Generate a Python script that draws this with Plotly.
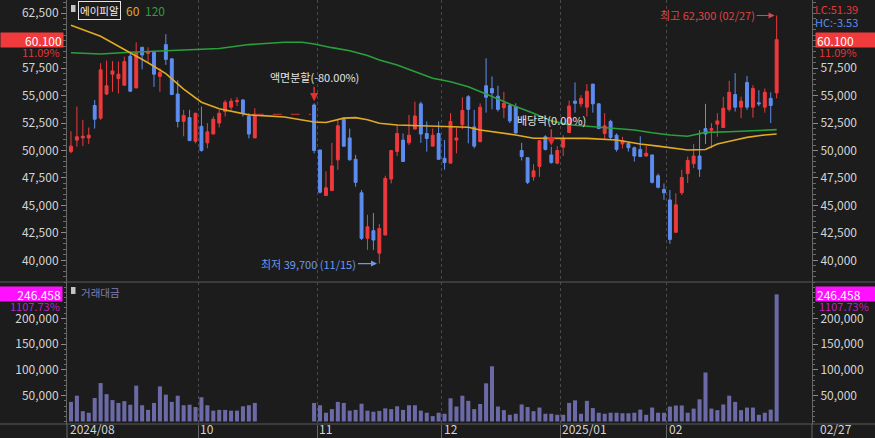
import plotly.graph_objects as go

# ---------------- data ----------------
month_labels = ["2024/08", "10", "11", "12", "2025/01", "02"]
month_start = [0, 22, 42, 63, 83, 101]
last_date_label = "02/27"
N_BARS = 120
S = None  # trading suspension (stock split)

opens = [49900, 50950, 51150, 51150, 54100, 52950, 55150, 56950, 56550, 55950,
         58600, 55700, 59400, 58850, 58950, 56750, 59650, 58350, 55150, 52650,
         53000, 50850, 52200, 50700, 51500, 52500, 53550, 53950, 54450, 54600,
         53100, 51150, S, S, S, S, S, S, S, S,
         S, 54150, 50050, 45900, 46350, 49150, 52850, 51150, 49200, 46150,
         42000, 42700, 40650, 42300, 47400, 49900, 50950, 50700, 51950, 54250,
         51550, 50400, 51550, 49300, 48850, 50950, 52350, 54900, 52150, 50800,
         55900, 55650, 54950, 53900, 54100, 54000, 50000, 49350, 47600, 48550,
         51250, 49600, 48850, 50300, 51650, 54500, 54250, 53950, 56050, 54250,
         51550, 52650, 51400, 50600, 50650, 50250, 50100, 49500, 49600, 47700,
         46450, 45500, 42550, 46150, 47900, 48800, 49500, 52000, 51850, 52400,
         52100, 53750, 55100, 53950, 56200, 53950, 54350, 53950, 54750, 55250]
highs = [51750, 54000, 52800, 52100, 54600, 57950, 58200, 58150, 58100, 58550,
         58850, 59850, 59450, 59400, 59000, 57500, 60600, 58350, 56400, 53700,
         53700, 53400, 54000, 52500, 53100, 53700, 54600, 54750, 54850, 54700,
         53400, 53850, S, S, S, S, S, S, S, S,
         S, 54300, 50050, 48100, 50700, 52800, 53000, 52000, 49600, 46400,
         44150, 44300, 43300, 47700, 50000, 52400, 51550, 53250, 54450, 54450,
         52650, 52000, 52650, 50950, 53400, 52100, 54850, 55050, 53700, 54300,
         58400, 56750, 55900, 55350, 54250, 54300, 50700, 49350, 48750, 50900,
         51400, 50350, 50400, 51400, 54550, 56200, 55050, 56050, 56050, 54300,
         53400, 52800, 51550, 51250, 50800, 50350, 51300, 50400, 49600, 47900,
         47000, 46400, 46100, 48250, 49450, 50600, 51850, 54250, 52500, 53400,
         54900, 56350, 57050, 54900, 56800, 55950, 55500, 55650, 55300, 62300]
lows = [49750, 50350, 50400, 50600, 52000, 52800, 55050, 55350, 55200, 55950,
        55350, 55700, 57400, 58100, 55800, 55350, 57800, 55050, 52100, 51300,
        50900, 50650, 49900, 50200, 51500, 52100, 53100, 53700, 54050, 53100,
        51100, 51150, S, S, S, S, S, S, S, S,
        S, 49750, 46100, 45900, 46350, 48250, 50350, 49100, 46700, 41850,
        40950, 40950, 39700, 42300, 47000, 49500, 49000, 50500, 51950, 50700,
        49900, 50400, 49150, 48250, 48850, 49750, 51950, 50650, 50200, 50800,
        53450, 53750, 53550, 52950, 52500, 51550, 49100, 46950, 47250, 47600,
        50000, 48800, 48750, 49500, 51650, 53450, 53950, 53100, 53450, 51950,
        51000, 51000, 49900, 50200, 49900, 49000, 49450, 49450, 47000, 46550,
        45500, 41500, 42550, 45950, 47050, 48400, 47600, 50600, 50200, 51250,
        52100, 53550, 53550, 52950, 53700, 53000, 54050, 53450, 52500, 54750]
closes = [50400, 51250, 51300, 51400, 52850, 57350, 55900, 57250, 56950, 58100,
          55400, 58950, 58700, 59000, 56950, 57100, 58300, 55100, 52650, 53200,
          50900, 53400, 50000, 51700, 52850, 53400, 54400, 54500, 54550, 53450,
          51500, 53300, S, S, S, S, S, S, S, S,
          S, 50000, 46200, 46600, 48600, 52250, 50400, 49150, 47100, 42000,
          43050, 41850, 42900, 47450, 50000, 51550, 49000, 51400, 53150, 51500,
          51100, 51400, 49200, 48900, 52650, 51150, 53650, 53750, 50400, 53950,
          54850, 55250, 53750, 54300, 52700, 51600, 49450, 47100, 48150, 50900,
          50100, 48900, 50000, 51100, 54050, 54300, 54750, 55400, 54250, 52000,
          52250, 51200, 50100, 50900, 50250, 49500, 49450, 49750, 47100, 46650,
          46150, 41900, 45050, 47550, 49100, 49500, 48300, 51500, 52000, 52700,
          53850, 55300, 53950, 54500, 53950, 55650, 54250, 55300, 54100, 60100]
turnover = [38000, 50000, 20000, 17000, 45500, 74500, 53000, 41500, 36000, 39500,
            32500, 69500, 31500, 22500, 36000, 68000, 52000, 38000, 50000, 31500,
            32500, 28000, 47000, 31500, 21000, 22500, 22500, 21000, 21000, 29500,
            31500, 36000, S, S, S, S, S, S, S, S,
            S, 36000, 31500, 17000, 24000, 38000, 36000, 21000, 22500, 34500,
            21000, 19000, 20500, 25500, 24000, 29500, 22500, 31500, 31500, 21000,
            17000, 10500, 17000, 15000, 45000, 29000, 50000, 40000, 24000, 34000,
            74000, 107000, 29000, 22000, 13000, 15000, 33000, 28000, 20000, 27000,
            15000, 15000, 13000, 13000, 36000, 41000, 15000, 40000, 26000, 17000,
            15000, 17000, 17000, 16000, 16000, 17000, 23000, 13000, 27000, 17000,
            17000, 29000, 31000, 31000, 17000, 25000, 43000, 95000, 25000, 22000,
            33000, 50000, 38000, 22000, 27000, 27000, 13000, 17000, 23000, 246458]

ma60_idx = [0, 5, 9, 13, 16, 19, 22, 25, 30, 36, 41, 43, 46, 48, 50, 52, 55, 63, 67, 69,
            72, 75, 78, 83, 87, 92, 96, 99, 101, 104, 107, 109, 112, 114, 117, 119]
ma60_val = [61400, 60400, 59200, 58000, 57000, 55600, 54400, 53800, 53250, 53050,
            52600, 52550, 52950, 53000, 52800, 52480, 52330, 52230, 52120, 51870,
            51660, 51420, 51120, 51110, 51110, 50960, 50600, 50400, 50250, 50050,
            50100, 50600, 50960, 51200, 51420, 51500]
ma120_idx = [0, 5, 10, 16, 20, 25, 30, 36, 39, 41, 44, 47, 50, 52, 55, 58, 61, 64, 67, 70,
             72, 75, 78, 81, 84, 87, 89, 92, 95, 98, 101, 104, 107, 111, 115, 119]
ma120_val = [58900, 58790, 58950, 59070, 59150, 59300, 59650, 59860, 59860, 59700,
             59370, 59090, 58650, 58250, 57790, 57180, 56580, 56270, 55810, 55150,
             54700, 54000, 53400, 52700, 52350, 52230, 52170, 52020, 51870, 51620,
             51414, 51300, 51650, 51715, 51780, 51900]

stock_name = "에이피알"
ma_labels = ["60", "120"]
price_ticks_left = [40000, 42500, 45000, 47500, 50000, 52500, 55000, 57500, 62500]
price_ticks_right = [40000, 42500, 45000, 47500, 50000, 52500, 55000, 57500]
vol_ticks = [50000, 100000, 150000, 200000]
last_price_text = "60,100"
last_change_text = "11.09%"
last_vol_text = "246,458"
last_vol_change_text = "1107.73%"
lc_text, hc_text = "LC:51.39", "HC:-3.53"
split_idx, split_text = 41, "액면분할(-80.00%)"
div_idx, div_text = 81, "배당락(0.00%)"
low_idx, low_text = 52, "최저 39,700 (11/15)"
high_idx, high_text = 119, "최고 62,300 (02/27)"
vol_title = "거래대금"

# ---------------- styling ----------------
BG = "#1c1c1c"
UP = "#ee3a3d"
DN = "#5d8df0"
GOLD = "#e2aa22"
GREEN = "#29a03d"
VOLC = "#6b6aa6"
TXT = "#d4d4d4"
AXL = "#666666"
FONT = "Noto Sans CJK KR"

W, H = 875, 438
ML, MR, MT, MB = 67, 63, 0, 14
PW, PH = W - ML - MR, H - MT - MB
SPLIT = 0.3349
X_RANGE = [-0.67, 124.96]
Y_RANGE = [38024, 63711]
V_RANGE = [-4845, 270350]


def px(xp):
    return (xp - ML) / PW


def py(yp):
    return (PH - yp) / PH


idx = [i for i in range(N_BARS) if opens[i] is not None]

fig = go.Figure()
fig.add_trace(go.Candlestick(
    x=idx, open=[opens[i] for i in idx], high=[highs[i] for i in idx],
    low=[lows[i] for i in idx], close=[closes[i] for i in idx],
    increasing=dict(line=dict(color=UP, width=1), fillcolor=UP),
    decreasing=dict(line=dict(color=DN, width=1), fillcolor=DN),
    whiskerwidth=0, xaxis="x", yaxis="y", hoverinfo="skip", showlegend=False))

fig.add_trace(go.Scatter(x=ma120_idx, y=ma120_val, mode="lines",
                         line=dict(color=GREEN, width=1.6), xaxis="x", yaxis="y",
                         hoverinfo="skip", showlegend=False))
fig.add_trace(go.Scatter(x=ma60_idx, y=ma60_val, mode="lines",
                         line=dict(color=GOLD, width=1.6), xaxis="x", yaxis="y",
                         hoverinfo="skip", showlegend=False))

last_pre = max(i for i in range(split_idx) if closes[i] is not None)
fig.add_trace(go.Scatter(x=[last_pre, split_idx - 0.5], y=[closes[last_pre]] * 2,
                         mode="lines", line=dict(color="#c83434", width=1, dash="dash"),
                         xaxis="x", yaxis="y", hoverinfo="skip", showlegend=False))

fig.add_trace(go.Bar(x=idx, y=[turnover[i] for i in idx], width=0.68,
                     marker=dict(color=VOLC, line=dict(width=0)),
                     xaxis="x2", yaxis="y2", hoverinfo="skip", showlegend=False))

# helper traces for the right-side axes
fig.add_trace(go.Scatter(x=[None], y=[None], xaxis="x", yaxis="y3", showlegend=False))
fig.add_trace(go.Scatter(x=[None], y=[None], xaxis="x2", yaxis="y4", showlegend=False))

grid_pos = [s - 0.5 for s in month_start[1:]]

yaxis_common = dict(tickformat=",d", ticks="outside", ticklen=5, tickcolor="#8a8a8a",
                    showline=True, linecolor=AXL, linewidth=1, showgrid=False,
                    zeroline=False, tickmode="array", fixedrange=True,
                    tickfont=dict(size=12, color=TXT, family=FONT))
price_minor = dict(tickmode="linear", tick0=0, dtick=500, ticks="outside", ticklen=3,
                   tickcolor="#6a6a6a", showgrid=False)
vol_minor = dict(tickmode="linear", tick0=0, dtick=10000, ticks="outside", ticklen=2,
                 tickcolor="#6a6a6a", showgrid=False)

xaxis_common = dict(range=X_RANGE, tickmode="array", tickvals=grid_pos, showticklabels=False,
                    showgrid=True, gridcolor="#4a4a4a", griddash="dot", gridwidth=1,
                    zeroline=False, showline=False, fixedrange=True)

fig.update_layout(
    width=W, height=H, margin=dict(l=ML, r=MR, t=MT, b=MB),
    paper_bgcolor=BG, plot_bgcolor=BG, showlegend=False,
    font=dict(family=FONT, color=TXT, size=12),
    boxgap=0.3,
    xaxis=dict(domain=[0, 1], anchor="y", rangeslider=dict(visible=False), ticks="",
               **xaxis_common),
    xaxis2=dict(domain=[0, 1], anchor="y2", matches="x", ticks="outside", ticklen=14,
                tickcolor=AXL, **xaxis_common),
    yaxis=dict(domain=[SPLIT, 1], range=Y_RANGE, side="left", anchor="x",
               tickvals=price_ticks_left, minor=price_minor, **yaxis_common),
    yaxis3=dict(overlaying="y", matches="y", side="right", anchor="x",
                tickvals=price_ticks_right, minor=price_minor, **yaxis_common),
    yaxis2=dict(domain=[0, SPLIT], range=V_RANGE, side="left", anchor="x2",
                tickvals=vol_ticks, minor=vol_minor, **yaxis_common),
    yaxis4=dict(overlaying="y2", matches="y2", side="right", anchor="x2",
                tickvals=vol_ticks, minor=vol_minor, **yaxis_common),
)

shapes = []
for yv in [0, SPLIT]:
    shapes.append(dict(type="line", xref="paper", yref="paper", x0=px(0), x1=px(W),
                       y0=yv, y1=yv, line=dict(color="#5a5a5a", width=1)))
for xv in [0, 1]:
    shapes.append(dict(type="line", xref="paper", yref="paper", x0=xv, x1=xv,
                       y0=py(PH + MB), y1=0, line=dict(color=AXL, width=1)))
# small legend icons (squares)
for y0, y1 in [(5, 12), (287, 294)]:
    shapes.append(dict(type="rect", xref="paper", yref="paper", x0=px(71), x1=px(75.5),
                       y0=py(y1), y1=py(y0), line=dict(width=0), fillcolor="#c4c4c4"))
fig.update_layout(shapes=shapes)

ann = []
# title row
ann.append(dict(xref="paper", yref="paper", x=px(78), y=py(10), xanchor="left", yanchor="middle",
                text=stock_name, showarrow=False, bordercolor="#e6e6e6", borderwidth=1, borderpad=1,
                font=dict(size=10.5, color="#f0f0f0")))
ann.append(dict(xref="paper", yref="paper", x=px(125), y=py(10), xanchor="left", yanchor="middle",
                text=ma_labels[0], showarrow=False, borderpad=0, font=dict(size=12, color=GOLD)))
ann.append(dict(xref="paper", yref="paper", x=px(144), y=py(10), xanchor="left", yanchor="middle",
                text=ma_labels[1], showarrow=False, borderpad=0, font=dict(size=12, color=GREEN)))

# last price boxes
ann.append(dict(xref="paper", yref="y", x=px(64), y=closes[-1], xanchor="right", yanchor="middle",
                text=last_price_text, showarrow=False, bgcolor="#f03a3c", width=60, height=12,
                align="right", borderpad=1, font=dict(size=12, color="white")))
ann.append(dict(xref="paper", yref="y", x=px(61), y=closes[-1], yshift=-12, xanchor="right",
                yanchor="middle", text=last_change_text, showarrow=False, borderpad=0,
                font=dict(size=11, color="#e03434")))
ann.append(dict(xref="paper", yref="y", x=px(815), y=closes[-1], xanchor="left", yanchor="middle",
                text=last_price_text, showarrow=False, bgcolor="#f03a3c", width=57, height=12,
                align="left", borderpad=1, font=dict(size=12, color="white")))
ann.append(dict(xref="paper", yref="y", x=px(818), y=closes[-1], yshift=-12, xanchor="left",
                yanchor="middle", text=last_change_text, showarrow=False, borderpad=0,
                font=dict(size=11, color="#e03434")))
ann.append(dict(xref="paper", yref="paper", x=px(814), y=py(0), xanchor="left", yanchor="top",
                text=lc_text, showarrow=False, borderpad=0, font=dict(size=11, color="#e03a3a")))
ann.append(dict(xref="paper", yref="paper", x=px(814), y=py(13), xanchor="left", yanchor="top",
                text=hc_text, showarrow=False, borderpad=0, font=dict(size=11, color="#5b8def")))

# volume boxes
ann.append(dict(xref="paper", yref="y2", x=px(63), y=turnover[-1], xanchor="right", yanchor="middle",
                text=last_vol_text, showarrow=False, bgcolor="#ff10ff", width=60, height=12,
                align="right", borderpad=1, font=dict(size=12, color="white")))
ann.append(dict(xref="paper", yref="y2", x=px(61), y=turnover[-1], yshift=-12, xanchor="right",
                yanchor="middle", text=last_vol_change_text, showarrow=False, borderpad=0,
                font=dict(size=11, color="#c020c0")))
ann.append(dict(xref="paper", yref="y2", x=px(815), y=turnover[-1], xanchor="left", yanchor="middle",
                text=last_vol_text, showarrow=False, bgcolor="#ff10ff", width=57, height=12,
                align="left", borderpad=1, font=dict(size=12, color="white")))
ann.append(dict(xref="paper", yref="y2", x=px(818), y=turnover[-1], yshift=-12, xanchor="left",
                yanchor="middle", text=last_vol_change_text, showarrow=False, borderpad=0,
                font=dict(size=11, color="#c020c0")))
ann.append(dict(xref="paper", yref="paper", x=px(80), y=py(292), xanchor="left", yanchor="middle",
                text=vol_title, showarrow=False, borderpad=0, font=dict(size=10.5, color="#7f7fb4")))

# event annotations
ann.append(dict(xref="x", yref="y", x=split_idx, y=highs[split_idx], text=split_text,
                showarrow=True, arrowhead=2, arrowsize=1.1, arrowwidth=1.5, arrowcolor="#e03030",
                ax=0, ay=-26, standoff=2, font=dict(size=11, color="#e2e2e2")))
ann.append(dict(xref="x", yref="y", x=div_idx, y=highs[div_idx], text=div_text,
                showarrow=True, arrowhead=2, arrowsize=1.1, arrowwidth=1.5, arrowcolor="#e03030",
                ax=0, ay=-27, standoff=1, font=dict(size=11, color="#e2e2e2")))
ann.append(dict(xref="x", yref="y", x=low_idx - 0.4, y=lows[low_idx], text=low_text,
                showarrow=True, arrowhead=2, arrowsize=1, arrowwidth=1.2, arrowcolor="#6b98ee",
                ax=-68, ay=0, font=dict(size=11, color="#6b98ee")))
ann.append(dict(xref="x", yref="y", x=high_idx - 0.35, y=highs[high_idx], text=high_text,
                showarrow=True, arrowhead=2, arrowsize=1, arrowwidth=1.2, arrowcolor="#e04545",
                ax=-67, ay=0, font=dict(size=11, color="#e04545")))

# x labels
for lab, s in zip(month_labels, month_start):
    ann.append(dict(xref="x2", yref="paper", x=s - 0.5, y=py(437.5), xanchor="left", yanchor="bottom",
                    xshift=1, text=lab, showarrow=False, borderpad=0, font=dict(size=12, color=TXT)))
ann.append(dict(xref="paper", yref="paper", x=px(819), y=py(437.5), xanchor="left", yanchor="bottom",
                text=last_date_label, showarrow=False, borderpad=0, font=dict(size=12, color=TXT)))

fig.update_layout(annotations=ann)
fig.write_html("out.html")
